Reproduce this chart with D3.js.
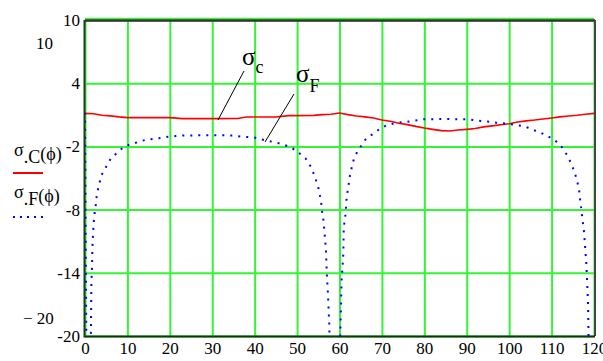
<!DOCTYPE html>
<html><head><meta charset="utf-8">
<script src="https://cdn.jsdelivr.net/npm/d3@7"></script>
<style>
html,body{margin:0;padding:0;background:#fff;}
svg{display:block;}
svg text{font-family:"Liberation Serif","Times New Roman",serif !important;fill:#000;}
</style></head><body>
<script>
// ---- data ----
const xTicks = [0,10,20,30,40,50,60,70,80,90,100,110,120];
const yTicks = [10,4,-2,-8,-14,-20];
const yTickLabels = ["10","4","-2","-8","-14","-20"];

const phiC = [0,2,4,6,8,10,15,20,23,30,36,38,45,48,54,56,58,60,62,64,66,68,70,72,74,76,78,80,82,84,86,88,90,92,94,96,98,100,102,104,106,108,110,112,114,116,118,120];
const sigmaC = [1.14,1.1,0.95,0.9,0.8,0.73,0.73,0.73,0.64,0.64,0.65,0.79,0.79,0.92,0.95,1.02,1.05,1.17,1.02,0.89,0.8,0.7,0.5,0.38,0.2,0.07,-0.1,-0.25,-0.38,-0.5,-0.54,-0.45,-0.38,-0.3,-0.15,-0.05,0.05,0.15,0.32,0.42,0.5,0.6,0.7,0.8,0.89,0.95,1.05,1.14];

const phiF = [0,0.4,1.3,1.4,1.5,1.65,1.75,1.9,2.1,2.3,2.6,2.8,3.3,3.8,4.9,6.1,7.6,9.3,11,12.8,14.5,16.1,17.9,19.6,21.4,23,27,30,33,35,36.6,38.4,40.2,42.2,45.3,47.1,48.7,50.4,52,53.3,54.1,54.9,55.3,55.7,55.9,56.2,56.5,56.8,57.0,57.3,57.6,57.7,
  60.0,60.2,60.3,60.4,60.5,60.7,60.9,61.0,61.4,61.7,62.1,62.5,63.0,63.5,64.7,66.0,67.7,69.6,71.1,72.9,74.9,76.5,79.8,85,90.4,91.8,93.6,95.3,97,99.5,102,103.8,105.5,107.2,108.9,110.6,112.3,113.7,114.7,115.5,116.1,116.5,116.7,117.0,117.2,117.6,117.9,118.2,118.4,118.6,118.7,118.75];
const sigmaF = [1.2,-26,-22,-19.5,-15,-13.5,-11.6,-10.2,-9.0,-8.2,-7.4,-6.5,-5.7,-4.8,-4.0,-3.15,-2.6,-2.0,-1.78,-1.55,-1.35,-1.3,-1.2,-1.08,-1.02,-0.96,-0.95,-0.94,-0.95,-0.98,-1.06,-1.11,-1.18,-1.4,-1.65,-1.87,-2.13,-2.6,-3.14,-3.97,-4.8,-5.7,-6.5,-7.4,-8.2,-9.0,-10.3,-11.8,-14.0,-16.2,-19.0,-22,
  -23,-19.7,-18,-16.3,-14.7,-13.5,-12.2,-9.7,-8.5,-6.8,-5.8,-4.67,-3.8,-3.0,-2.2,-1.4,-0.86,-0.31,0.0,0.19,0.3,0.36,0.57,0.6,0.57,0.5,0.41,0.35,0.25,0.17,0.0,-0.12,-0.42,-0.64,-1.0,-1.35,-2.0,-2.86,-3.68,-4.55,-5.4,-6.2,-7.0,-7.9,-8.7,-9.9,-11.5,-13.2,-15.0,-17.0,-19.5,-22];

// ---- layout ----
const W = 603, H = 361;
const L = 85, R = 594, T = 20, B = 336;
const SERIF = '"Liberation Serif","Times New Roman",serif';

const svg = d3.select("body").append("svg").attr("width", W).attr("height", H);
const x = d3.scaleLinear().domain([0,120]).range([L,R]);
const y = d3.scaleLinear().domain([-20,10]).range([B,T]);

svg.append("defs").append("clipPath").attr("id","clip")
  .append("rect").attr("x",L).attr("y",T).attr("width",R-L).attr("height",B-T);

const green = "#33f533";
// grid
const xg = d3.axisBottom(x).tickValues(xTicks).tickSize(-(B-T)).tickFormat("");
svg.append("g").attr("transform",`translate(0,${B})`).call(xg)
  .call(g=>g.select(".domain").remove())
  .call(g=>g.selectAll("line").attr("stroke",green).attr("stroke-width",2));
const yg = d3.axisLeft(y).tickValues(yTicks).tickSize(-(R-L)).tickFormat("");
svg.append("g").attr("transform",`translate(${L},0)`).call(yg)
  .call(g=>g.select(".domain").remove())
  .call(g=>g.selectAll("line").attr("stroke",green).attr("stroke-width",2));
svg.append("line").attr("x1",L).attr("x2",R).attr("y1",T-1.5).attr("y2",T-1.5).attr("stroke",green).attr("stroke-width",1.5);

// borders
svg.append("line").attr("x1",L).attr("x2",R+1).attr("y1",T+0.5).attr("y2",T+0.5).attr("stroke","#333").attr("stroke-width",2.5);
svg.append("line").attr("x1",R+1).attr("x2",R+1).attr("y1",T).attr("y2",B).attr("stroke","#444").attr("stroke-width",2);
svg.append("line").attr("x1",L).attr("x2",R+1).attr("y1",B+0.5).attr("y2",B+0.5).attr("stroke","#113311").attr("stroke-width",2);
svg.append("line").attr("x1",L-0.5).attr("x2",L-0.5).attr("y1",T).attr("y2",B+1.5).attr("stroke","#1d3d1d").attr("stroke-width",2);

// tick labels
const yAx = d3.axisLeft(y).tickValues(yTicks).tickSize(0).tickPadding(5)
  .tickFormat(d=>yTickLabels[yTicks.indexOf(d)]);
svg.append("g").attr("transform",`translate(${L},0)`).call(yAx)
  .attr("font-family", SERIF)
  .call(g=>g.select(".domain").remove())
  .call(g=>g.selectAll("text").attr("font-size",17).style("font-family",SERIF).attr("fill","#000"));
const xAx = d3.axisBottom(x).tickValues(xTicks).tickSize(0).tickPadding(6).tickFormat(d3.format("d"));
svg.append("g").attr("transform",`translate(0,${B})`).call(xAx)
  .attr("font-family", SERIF)
  .call(g=>g.select(".domain").remove())
  .call(g=>g.selectAll("text").attr("font-size",17).style("font-family",SERIF).attr("fill","#000"));

// extra axis-limit labels
svg.append("text").attr("x",36).attr("y",49).attr("font-size",17).style("font-family",SERIF).text("10");
svg.append("text").attr("x",23).attr("y",324).attr("font-size",17).style("font-family",SERIF).text("\u2212 20");

// series
const g = svg.append("g").attr("clip-path","url(#clip)");
const lineC = d3.line().x((d,i)=>x(phiC[i])).y((d,i)=>y(sigmaC[i]));
g.append("path").attr("d", lineC(phiC)).attr("fill","none").attr("stroke","#ff0000").attr("stroke-width",1.6);
const lineF = d3.line().x((d,i)=>x(phiF[i])).y((d,i)=>y(sigmaF[i]));
g.append("path").attr("d", lineF(phiF)).attr("fill","none").attr("stroke","#0000ff")
  .attr("stroke-width",2).attr("stroke-dasharray","2,6");

// annotations
function sigmaLabel(px, py, sub, fs, subfs, dx, dy){
  const t = svg.append("text").attr("x",px).attr("y",py).attr("font-size",fs).style("font-family",SERIF);
  t.append("tspan").text("\u03c3");
  t.append("tspan").attr("dx",dx).attr("dy",dy).attr("font-size",subfs).text(sub);
}
sigmaLabel(242, 65, "c", 25, 18, 0, 8);
sigmaLabel(296, 82, "F", 25, 18, 0, 10);
svg.append("line").attr("x1",244).attr("y1",71).attr("x2",218).attr("y2",120).attr("stroke","#000").attr("stroke-width",1);
svg.append("line").attr("x1",294).attr("y1",94).attr("x2",265).attr("y2",142).attr("stroke","#000").attr("stroke-width",1);

// legend
function legendLabel(px, py, sub){
  const t = svg.append("text").attr("x",px).attr("y",py).attr("font-size",18).style("font-family",SERIF);
  t.append("tspan").text("\u03c3");
  t.append("tspan").attr("dy",7).text("."+sub);
  t.append("tspan").attr("dy",-3).text("(\u03d5)");
}
legendLabel(14, 156, "C");
legendLabel(14, 198, "F");
svg.append("line").attr("x1",13).attr("x2",43).attr("y1",173).attr("y2",173).attr("stroke","#ff0000").attr("stroke-width",2);
svg.append("line").attr("x1",13).attr("x2",45).attr("y1",217).attr("y2",217).attr("stroke","#0000ff").attr("stroke-width",2).attr("stroke-dasharray","2,5");
</script>
</body></html>
